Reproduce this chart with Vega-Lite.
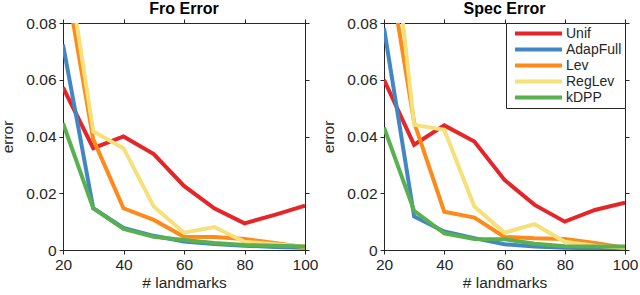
{
  "$schema": "https://vega.github.io/schema/vega-lite/v6.json",
  "padding": {"left": 0, "top": 0, "right": 0, "bottom": 0},
  "background": "white",
  "config": {
    "font": "Liberation Sans",
    "view": {"stroke": "#262626", "strokeWidth": 1},
    "axis": {
      "grid": false,
      "labelFlush": false,
      "labelFont": "Liberation Sans",
      "labelFontSize": 15.5,
      "labelColor": "#262626",
      "titleFont": "Liberation Sans",
      "titleFontSize": 15.5,
      "titleFontWeight": "normal",
      "titleColor": "#262626",
      "domainColor": "#262626",
      "tickColor": "#262626",
      "tickSize": 4,
      "labelPadding": 3
    },
    "title": {"font": "Liberation Sans", "fontSize": 16, "fontWeight": "bold", "color": "#000000", "offset": -1},
    "legend": {
      "orient": "top-right",
      "offset": 0,
      "strokeColor": "#262626",
      "fillColor": "white",
      "padding": 3,
      "symbolType": "stroke",
      "symbolSize": 2209,
      "symbolStrokeWidth": 4,
      "symbolOffset": 4,
      "labelFont": "Liberation Sans",
      "labelFontSize": 14,
      "labelColor": "#262626",
      "labelOffset": 2,
      "clipHeight": 15,
      "rowPadding": 1,
      "title": null
    }
  },
  "data": {
    "values": [
      {"panel": "Fro", "method": "Unif", "n": 20, "err": 0.0573},
      {"panel": "Fro", "method": "Unif", "n": 30, "err": 0.0359},
      {"panel": "Fro", "method": "Unif", "n": 40, "err": 0.0400},
      {"panel": "Fro", "method": "Unif", "n": 50, "err": 0.0338},
      {"panel": "Fro", "method": "Unif", "n": 60, "err": 0.0226},
      {"panel": "Fro", "method": "Unif", "n": 70, "err": 0.0147},
      {"panel": "Fro", "method": "Unif", "n": 80, "err": 0.0094},
      {"panel": "Fro", "method": "Unif", "n": 90, "err": 0.0124},
      {"panel": "Fro", "method": "Unif", "n": 100, "err": 0.0156},
      {"panel": "Fro", "method": "AdapFull", "n": 20, "err": 0.0724},
      {"panel": "Fro", "method": "AdapFull", "n": 30, "err": 0.0147},
      {"panel": "Fro", "method": "AdapFull", "n": 40, "err": 0.0078},
      {"panel": "Fro", "method": "AdapFull", "n": 50, "err": 0.0050},
      {"panel": "Fro", "method": "AdapFull", "n": 60, "err": 0.0030},
      {"panel": "Fro", "method": "AdapFull", "n": 70, "err": 0.0021},
      {"panel": "Fro", "method": "AdapFull", "n": 80, "err": 0.0015},
      {"panel": "Fro", "method": "AdapFull", "n": 90, "err": 0.0011},
      {"panel": "Fro", "method": "AdapFull", "n": 100, "err": 0.0008},
      {"panel": "Fro", "method": "Lev", "n": 20, "err": 0.101},
      {"panel": "Fro", "method": "Lev", "n": 30, "err": 0.0390},
      {"panel": "Fro", "method": "Lev", "n": 40, "err": 0.0147},
      {"panel": "Fro", "method": "Lev", "n": 50, "err": 0.0106},
      {"panel": "Fro", "method": "Lev", "n": 60, "err": 0.0047},
      {"panel": "Fro", "method": "Lev", "n": 70, "err": 0.0046},
      {"panel": "Fro", "method": "Lev", "n": 80, "err": 0.0039},
      {"panel": "Fro", "method": "Lev", "n": 90, "err": 0.0025},
      {"panel": "Fro", "method": "Lev", "n": 100, "err": 0.0010},
      {"panel": "Fro", "method": "RegLev", "n": 20, "err": 0.111},
      {"panel": "Fro", "method": "RegLev", "n": 30, "err": 0.0418},
      {"panel": "Fro", "method": "RegLev", "n": 40, "err": 0.0359},
      {"panel": "Fro", "method": "RegLev", "n": 50, "err": 0.0153},
      {"panel": "Fro", "method": "RegLev", "n": 60, "err": 0.0061},
      {"panel": "Fro", "method": "RegLev", "n": 70, "err": 0.0081},
      {"panel": "Fro", "method": "RegLev", "n": 80, "err": 0.0029},
      {"panel": "Fro", "method": "RegLev", "n": 90, "err": 0.0020},
      {"panel": "Fro", "method": "RegLev", "n": 100, "err": 0.0012},
      {"panel": "Fro", "method": "kDPP", "n": 20, "err": 0.0447},
      {"panel": "Fro", "method": "kDPP", "n": 30, "err": 0.0147},
      {"panel": "Fro", "method": "kDPP", "n": 40, "err": 0.0074},
      {"panel": "Fro", "method": "kDPP", "n": 50, "err": 0.0047},
      {"panel": "Fro", "method": "kDPP", "n": 60, "err": 0.0035},
      {"panel": "Fro", "method": "kDPP", "n": 70, "err": 0.0025},
      {"panel": "Fro", "method": "kDPP", "n": 80, "err": 0.0018},
      {"panel": "Fro", "method": "kDPP", "n": 90, "err": 0.0015},
      {"panel": "Fro", "method": "kDPP", "n": 100, "err": 0.0012},
      {"panel": "Spec", "method": "Unif", "n": 20, "err": 0.0600},
      {"panel": "Spec", "method": "Unif", "n": 30, "err": 0.0371},
      {"panel": "Spec", "method": "Unif", "n": 40, "err": 0.0439},
      {"panel": "Spec", "method": "Unif", "n": 50, "err": 0.0382},
      {"panel": "Spec", "method": "Unif", "n": 60, "err": 0.0247},
      {"panel": "Spec", "method": "Unif", "n": 70, "err": 0.0159},
      {"panel": "Spec", "method": "Unif", "n": 80, "err": 0.0100},
      {"panel": "Spec", "method": "Unif", "n": 90, "err": 0.0141},
      {"panel": "Spec", "method": "Unif", "n": 100, "err": 0.0167},
      {"panel": "Spec", "method": "AdapFull", "n": 20, "err": 0.0782},
      {"panel": "Spec", "method": "AdapFull", "n": 30, "err": 0.0118},
      {"panel": "Spec", "method": "AdapFull", "n": 40, "err": 0.0065},
      {"panel": "Spec", "method": "AdapFull", "n": 50, "err": 0.0042},
      {"panel": "Spec", "method": "AdapFull", "n": 60, "err": 0.0020},
      {"panel": "Spec", "method": "AdapFull", "n": 70, "err": 0.0012},
      {"panel": "Spec", "method": "AdapFull", "n": 80, "err": 0.0008},
      {"panel": "Spec", "method": "AdapFull", "n": 90, "err": 0.0006},
      {"panel": "Spec", "method": "AdapFull", "n": 100, "err": 0.0005},
      {"panel": "Spec", "method": "Lev", "n": 20, "err": 0.110},
      {"panel": "Spec", "method": "Lev", "n": 30, "err": 0.0450},
      {"panel": "Spec", "method": "Lev", "n": 40, "err": 0.0135},
      {"panel": "Spec", "method": "Lev", "n": 50, "err": 0.0114},
      {"panel": "Spec", "method": "Lev", "n": 60, "err": 0.0046},
      {"panel": "Spec", "method": "Lev", "n": 70, "err": 0.0041},
      {"panel": "Spec", "method": "Lev", "n": 80, "err": 0.0039},
      {"panel": "Spec", "method": "Lev", "n": 90, "err": 0.0025},
      {"panel": "Spec", "method": "Lev", "n": 100, "err": 0.0008},
      {"panel": "Spec", "method": "RegLev", "n": 20, "err": 0.141},
      {"panel": "Spec", "method": "RegLev", "n": 30, "err": 0.0441},
      {"panel": "Spec", "method": "RegLev", "n": 40, "err": 0.0424},
      {"panel": "Spec", "method": "RegLev", "n": 50, "err": 0.0153},
      {"panel": "Spec", "method": "RegLev", "n": 60, "err": 0.0061},
      {"panel": "Spec", "method": "RegLev", "n": 70, "err": 0.0091},
      {"panel": "Spec", "method": "RegLev", "n": 80, "err": 0.0029},
      {"panel": "Spec", "method": "RegLev", "n": 90, "err": 0.0015},
      {"panel": "Spec", "method": "RegLev", "n": 100, "err": 0.0008},
      {"panel": "Spec", "method": "kDPP", "n": 20, "err": 0.0432},
      {"panel": "Spec", "method": "kDPP", "n": 30, "err": 0.0138},
      {"panel": "Spec", "method": "kDPP", "n": 40, "err": 0.0059},
      {"panel": "Spec", "method": "kDPP", "n": 50, "err": 0.0039},
      {"panel": "Spec", "method": "kDPP", "n": 60, "err": 0.0038},
      {"panel": "Spec", "method": "kDPP", "n": 70, "err": 0.0022},
      {"panel": "Spec", "method": "kDPP", "n": 80, "err": 0.0013},
      {"panel": "Spec", "method": "kDPP", "n": 90, "err": 0.0012},
      {"panel": "Spec", "method": "kDPP", "n": 100, "err": 0.0012}
    ]
  },
  "bounds": "flush",
  "spacing": 79,
  "hconcat": [
    {
      "width": 242,
      "height": 227,
      "title": {"text": "Fro Error"},
      "transform": [{"filter": "datum.panel === 'Fro'"}],
      "resolve": {"axis": {"x": "independent", "y": "independent"}},
      "layer": [
        {
          "mark": {"type": "line", "strokeWidth": 4, "clip": true},
          "encoding": {
            "x": {"field": "n", "type": "quantitative", "scale": {"domain": [20, 100]},
                  "axis": {"orient": "bottom", "values": [20, 40, 60, 80, 100], "title": "# landmarks", "titlePadding": 3}},
            "y": {"field": "err", "type": "quantitative", "scale": {"domain": [0, 0.08]},
                  "axis": {"orient": "left", "values": [0, 0.02, 0.04, 0.06, 0.08], "format": ".2~f", "title": "error", "titlePadding": 10}},
            "color": {"field": "method", "type": "nominal",
                      "scale": {"domain": ["Unif", "AdapFull", "Lev", "RegLev", "kDPP"], "range": ["#e4262b", "#4287c3", "#fd8a1a", "#f5e07a", "#58b050"]},
                      "legend": null}
          }
        },
        {
          "mark": {"type": "line", "opacity": 0, "clip": true},
          "encoding": {
            "x": {"field": "n", "type": "quantitative", "axis": {"orient": "top", "values": [20, 40, 60, 80, 100], "labels": false, "title": null}},
            "y": {"field": "err", "type": "quantitative", "axis": {"orient": "right", "values": [0, 0.02, 0.04, 0.06, 0.08], "labels": false, "title": null}}
          }
        }
      ]
    },
    {
      "width": 241,
      "height": 227,
      "title": {"text": "Spec Error"},
      "transform": [{"filter": "datum.panel === 'Spec'"}],
      "resolve": {"axis": {"x": "independent", "y": "independent"}},
      "layer": [
        {
          "mark": {"type": "line", "strokeWidth": 4, "clip": true},
          "encoding": {
            "x": {"field": "n", "type": "quantitative", "scale": {"domain": [20, 100]},
                  "axis": {"orient": "bottom", "values": [20, 40, 60, 80, 100], "title": "# landmarks", "titlePadding": 3}},
            "y": {"field": "err", "type": "quantitative", "scale": {"domain": [0, 0.08]},
                  "axis": {"orient": "left", "values": [0, 0.02, 0.04, 0.06, 0.08], "format": ".2~f", "title": "error", "titlePadding": 10}},
            "color": {"field": "method", "type": "nominal",
                      "scale": {"domain": ["Unif", "AdapFull", "Lev", "RegLev", "kDPP"], "range": ["#e4262b", "#4287c3", "#fd8a1a", "#f5e07a", "#58b050"]}}
          }
        },
        {
          "mark": {"type": "line", "opacity": 0, "clip": true},
          "encoding": {
            "x": {"field": "n", "type": "quantitative", "axis": {"orient": "top", "values": [20, 40, 60, 80, 100], "labels": false, "title": null}},
            "y": {"field": "err", "type": "quantitative", "axis": {"orient": "right", "values": [0, 0.02, 0.04, 0.06, 0.08], "labels": false, "title": null}}
          }
        }
      ]
    }
  ],
  "resolve": {"scale": {"color": "independent"}, "legend": {"color": "independent"}}
}
